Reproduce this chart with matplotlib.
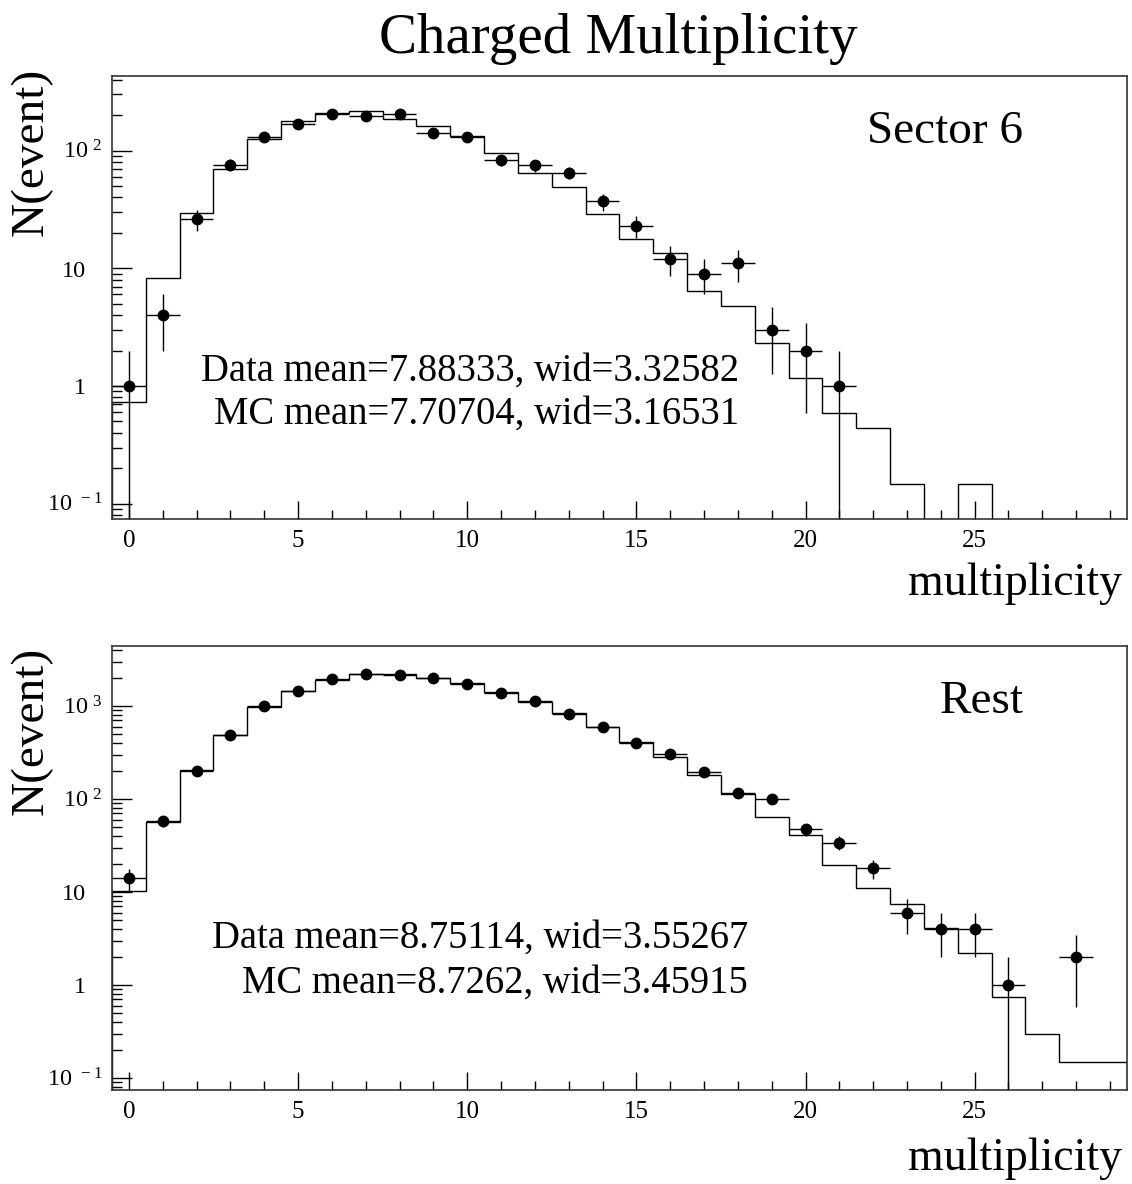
import numpy as np
import matplotlib
matplotlib.use("Agg")
import matplotlib.pyplot as plt
import matplotlib.transforms as mtransforms
from matplotlib.ticker import FixedLocator, MultipleLocator, LogLocator, NullFormatter

plt.rcParams["font.family"] = "Liberation Serif"
plt.rcParams["mathtext.fontset"] = "custom"
plt.rcParams["mathtext.rm"] = "Liberation Serif"

# multiplicity bins (centres), edges at +-0.5
edges = np.arange(-0.5, 30.0, 1.0)

# Sector 6: data counts (multiplicity 0..21) and MC histogram (0..29)
sec6_x = [0, 1, 2, 3, 4, 5, 6, 7, 8, 9, 10, 11, 12, 13, 14, 15, 16, 17, 18, 19, 20, 21]
sec6_data = [1, 4, 26, 76, 130, 169, 206, 196, 206, 141, 130, 83, 75, 65, 37, 23, 12, 9, 11, 3, 2, 1]
sec6_mc = [0.73, 8.3, 29.7, 69.5, 125, 179, 208, 215, 186, 163, 133, 95, 64, 49, 28.8, 17.8, 13.6,
           6.4, 4.8, 2.34, 1.16, 0.59, 0.44, 0.147, 0, 0.147, 0, 0, 0, 0]

# Rest
rest_x = [0, 1, 2, 3, 4, 5, 6, 7, 8, 9, 10, 11, 12, 13, 14, 15, 16, 17, 18, 19, 20, 21, 22, 23, 24, 25, 26, 28]
rest_data = [14, 58, 200, 488, 1000, 1462, 1950, 2210, 2170, 2000, 1711, 1390, 1123, 815, 590, 403, 302,
             197, 117, 99, 47, 34, 18, 6, 4, 4, 1, 2]
rest_mc = [10.3, 57, 205, 492, 975, 1462, 1905, 2190, 2190, 2000, 1780, 1426, 1104, 834, 590, 413, 285,
           181, 112, 64.6, 41.5, 19.5, 11, 7.4, 4.1, 2.23, 0.74, 0.30, 0.149, 0.149]

panels = [
    dict(x=sec6_x, data=sec6_data, mc=sec6_mc, label="Sector 6",
         stats=["Data mean=7.88333, wid=3.32582", "MC mean=7.70704, wid=3.16531"],
         yticks=[0.1, 1, 10, 100], ytop=431,
         rect=[0.0989, 0.5617, 0.8966, 0.3742], txt_y=[0.312, 0.214], txt_x=0.618),
    dict(x=rest_x, data=rest_data, mc=rest_mc, label="Rest",
         stats=["Data mean=8.75114, wid=3.55267", "MC mean=8.7262, wid=3.45915"],
         yticks=[0.1, 1, 10, 100, 1000], ytop=4416,
         rect=[0.0989, 0.0794, 0.8966, 0.3750], txt_y=[0.320, 0.219], txt_x=0.6266),
]

# ROOT style labels: exponent ones end further right than plain ones
ylabel_map = {0.1: (r"$\mathregular{10^{\ -1}}$", True), 1: ("1", False), 10: ("10", False),
              100: (r"$\mathregular{10^{\ 2}}$", True), 1000: (r"$\mathregular{10^{\ 3}}$", True)}

fig = plt.figure(figsize=(11.32, 11.84), dpi=100)
fig.text(0.546, 0.955, "Charged Multiplicity", ha="center", va="baseline", fontsize=41)

ymin = 0.0743
for i, p in enumerate(panels):
    ax = fig.add_axes(p["rect"])
    ax.set_yscale("log")
    mc = np.maximum(np.array(p["mc"], dtype=float), 1e-3)
    ax.stairs(mc, edges, color="black", linewidth=1.0)
    y = np.array(p["data"], dtype=float)
    ax.errorbar(p["x"], y, xerr=0.5, yerr=np.sqrt(y), fmt="o", color="black",
                ms=7.5, elinewidth=1.0, capsize=0)
    ax.set_xlim(-0.5, 29.5)
    ax.set_ylim(ymin, p["ytop"])

    ax.xaxis.set_major_locator(MultipleLocator(5))
    ax.xaxis.set_minor_locator(MultipleLocator(1))
    ax.yaxis.set_major_locator(FixedLocator(p["yticks"]))
    ax.yaxis.set_major_formatter(NullFormatter())
    ax.yaxis.set_minor_locator(LogLocator(base=10, subs=np.arange(2, 10)))
    ax.yaxis.set_minor_formatter(NullFormatter())
    ax.tick_params(which="both", direction="in", top=False, right=False, width=1.0, labelsize=18)
    ax.tick_params(axis="x", which="major", length=13, pad=8)
    ax.tick_params(axis="x", which="minor", length=6.5)
    ax.tick_params(axis="y", which="major", length=14.5)
    ax.tick_params(axis="y", which="minor", length=7.5)
    for s in ax.spines.values():
        s.set_linewidth(1.2)
        s.set_color("#333333")

    # y tick labels
    base = mtransforms.blended_transform_factory(ax.transAxes, ax.transData)
    shift = mtransforms.ScaledTranslation(0, -0.082, fig.dpi_scale_trans)
    for t in p["yticks"]:
        s, is_exp = ylabel_map[t]
        xl = -0.0089 if is_exp else -0.0256
        ax.text(xl, t, s, transform=base + shift, ha="right", va="baseline", fontsize=17.5)

    for k, t in enumerate(p["stats"]):
        ax.text(p["txt_x"], p["txt_y"][k], t, transform=ax.transAxes, ha="right",
                va="baseline", fontsize=27.8)
    ax.text(0.898, 0.848, p["label"], transform=ax.transAxes, ha="right", va="baseline", fontsize=34)

    top_px = [68, 647][i]
    base_px = [595, 1170][i]
    fig.text(0.0274, 1 - top_px / 1184, "N(event)", rotation=90, ha="center", va="top", fontsize=34)
    fig.text(0.9912, 1 - base_px / 1184, "multiplicity", ha="right", va="baseline", fontsize=33)

fig.savefig("out.png", dpi=100)
